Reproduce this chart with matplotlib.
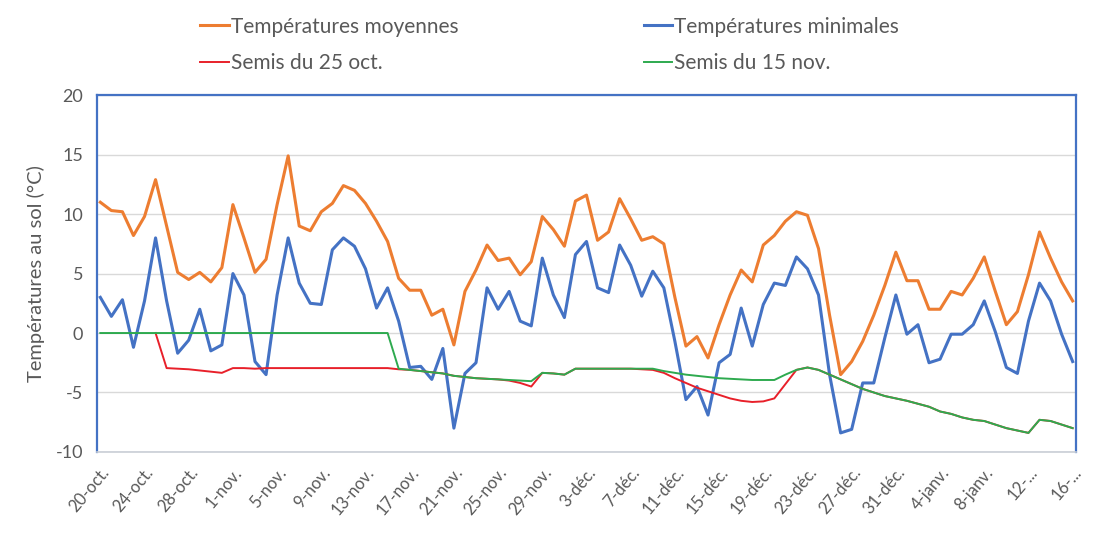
import numpy as np
import matplotlib
matplotlib.use("Agg")
import matplotlib.pyplot as plt

plt.rcParams['font.family'] = ['Lato', 'DejaVu Sans']
plt.rcParams['axes.unicode_minus'] = False

# one value per day, 20 oct. -> 16 janv.
t_moy = [11.0, 10.3, 10.2, 8.2, 9.8, 12.9, 9.0, 5.1, 4.5, 5.1,
         4.3, 5.5, 10.8, 8.0, 5.1, 6.2, 10.8, 14.9, 9.0, 8.6,
         10.2, 10.9, 12.4, 12.0, 10.9, 9.4, 7.7, 4.6, 3.6, 3.6,
         1.5, 2.0, -1.0, 3.5, 5.3, 7.4, 6.1, 6.3, 4.9, 6.0,
         9.8, 8.7, 7.3, 11.1, 11.6, 7.8, 8.5, 11.3, 9.6, 7.8,
         8.1, 7.5, 3.0, -1.1, -0.3, -2.1, 0.7, 3.2, 5.3, 4.3,
         7.4, 8.2, 9.4, 10.2, 9.9, 7.1, 1.5, -3.5, -2.4, -0.7,
         1.5, 4.0, 6.8, 4.4, 4.4, 2.0, 2.0, 3.5, 3.2, 4.6,
         6.4, 3.5, 0.7, 1.8, 4.9, 8.5, 6.3, 4.3, 2.7]

t_min = [3.0, 1.4, 2.8, -1.2, 2.7, 8.0, 2.7, -1.7, -0.6, 2.0,
         -1.5, -1.0, 5.0, 3.2, -2.4, -3.5, 3.2, 8.0, 4.2, 2.5,
         2.4, 7.0, 8.0, 7.3, 5.4, 2.1, 3.8, 1.0, -2.9, -2.8,
         -3.9, -1.3, -8.0, -3.4, -2.5, 3.8, 2.0, 3.5, 1.0, 0.6,
         6.3, 3.2, 1.3, 6.6, 7.7, 3.8, 3.4, 7.4, 5.7, 3.1,
         5.2, 3.8, -0.7, -5.6, -4.5, -6.9, -2.5, -1.8, 2.1, -1.1,
         2.4, 4.2, 4.0, 6.4, 5.4, 3.2, -3.5, -8.4, -8.1, -4.2,
         -4.2, -0.4, 3.2, -0.1, 0.7, -2.5, -2.2, -0.1, -0.1, 0.7,
         2.7, 0.1, -2.9, -3.4, 1.0, 4.2, 2.7, -0.1, -2.4]

semis_25oct = [np.nan, np.nan, np.nan, np.nan, np.nan, 0.0, -2.95, -3.0, -3.05, -3.15,
               -3.25, -3.35, -2.95, -2.95, -3.0, -2.95, -2.95, -2.95, -2.95, -2.95,
               -2.95, -2.95, -2.95, -2.95, -2.95, -2.95, -2.95, -3.05, -3.1, -3.2,
               -3.3, -3.4, -3.6, -3.7, -3.8, -3.85, -3.9, -4.0, -4.2, -4.5,
               -3.35, -3.4, -3.5, -3.0, -3.0, -3.0, -3.0, -3.0, -3.0, -3.05,
               -3.1, -3.35, -3.8, -4.2, -4.6, -4.9, -5.2, -5.5, -5.7, -5.8,
               -5.75, -5.5, -4.3, -3.1, -2.9, -3.1, -3.5, -3.9, -4.3, -4.7,
               -5.0, -5.3, -5.5, -5.7, -5.95, -6.2, -6.6, -6.8, -7.1, -7.3,
               -7.4, -7.7, -8.0, -8.2, -8.4, -7.3, -7.4, -7.7, -8.0]

semis_15nov = [0.0] * 27 + [
               -3.0, -3.1, -3.2,
               -3.3, -3.4, -3.6, -3.7, -3.8, -3.85, -3.9, -3.95, -4.0, -4.05,
               -3.35, -3.4, -3.5, -3.0, -3.0, -3.0, -3.0, -3.0, -3.0, -3.0,
               -3.0, -3.2, -3.35, -3.5, -3.6, -3.7, -3.8, -3.85, -3.9, -3.95,
               -3.95, -3.95, -3.5, -3.1, -2.9, -3.1, -3.5, -3.9, -4.3, -4.7,
               -5.0, -5.3, -5.5, -5.7, -5.95, -6.2, -6.6, -6.8, -7.1, -7.3,
               -7.4, -7.7, -8.0, -8.2, -8.4, -7.3, -7.4, -7.7, -8.0]

tick_labels = ["20-oct.", "24-oct.", "28-oct.", "1-nov.", "5-nov.", "9-nov.",
               "13-nov.", "17-nov.", "21-nov.", "25-nov.", "29-nov.", "3-déc.",
               "7-déc.", "11-déc.", "15-déc.", "19-déc.", "23-déc.", "27-déc.",
               "31-déc.", "4-janv.", "8-janv.", "12-...", "16-..."]

x = np.arange(len(t_moy))

fig = plt.figure(figsize=(11.15, 5.38), dpi=100)
ax = fig.add_axes([0.087, 0.160, 0.878, 0.663])

ax.plot(x, t_moy, color='#ED7D31', lw=2.2, label='Températures moyennes', zorder=3)
ax.plot(x, t_min, color='#4472C4', lw=2.2, label='Températures minimales', zorder=3)
ax.plot(x, semis_25oct, color='#E8202A', lw=1.4, label='Semis du 25 oct.', zorder=4)
ax.plot(x, semis_15nov, color='#2EAA4F', lw=1.4, label='Semis du 15 nov.', zorder=4)

ax.set_xlim(-0.3, len(x) - 0.7)
ax.set_ylim(-10, 20)
ax.set_yticks(np.arange(-10, 21, 5))
ax.yaxis.grid(True, color='#D9D9D9', lw=1)
ax.set_axisbelow(True)

ax.set_xticks(x[::4])
ax.set_xticklabels(tick_labels, rotation=50, ha='right', rotation_mode='anchor')
ax.tick_params(length=0, colors='#595959')
ax.tick_params(axis='x', pad=9, labelsize=12)
ax.tick_params(axis='y', pad=10, labelsize=13)
ax.set_ylabel('Températures au sol (°C)', fontsize=14.5, color='#595959', labelpad=8)

for side in ['left', 'top', 'right']:
    ax.spines[side].set_color('#4472C4')
    ax.spines[side].set_linewidth(1.6)
ax.spines['bottom'].set_color('#C9CED6')
ax.spines['bottom'].set_linewidth(1.2)

h, l = ax.get_legend_handles_labels()
order = [0, 2, 1, 3]
fig.legend([h[k] for k in order], [l[k] for k in order], ncol=2,
           loc='upper left', bbox_to_anchor=(0.163, 1.004), frameon=False,
           fontsize=15, handlelength=1.35, handletextpad=0.1,
           columnspacing=8.9, labelspacing=0.8, labelcolor='#595959')

fig.savefig('out.png', dpi=100)
